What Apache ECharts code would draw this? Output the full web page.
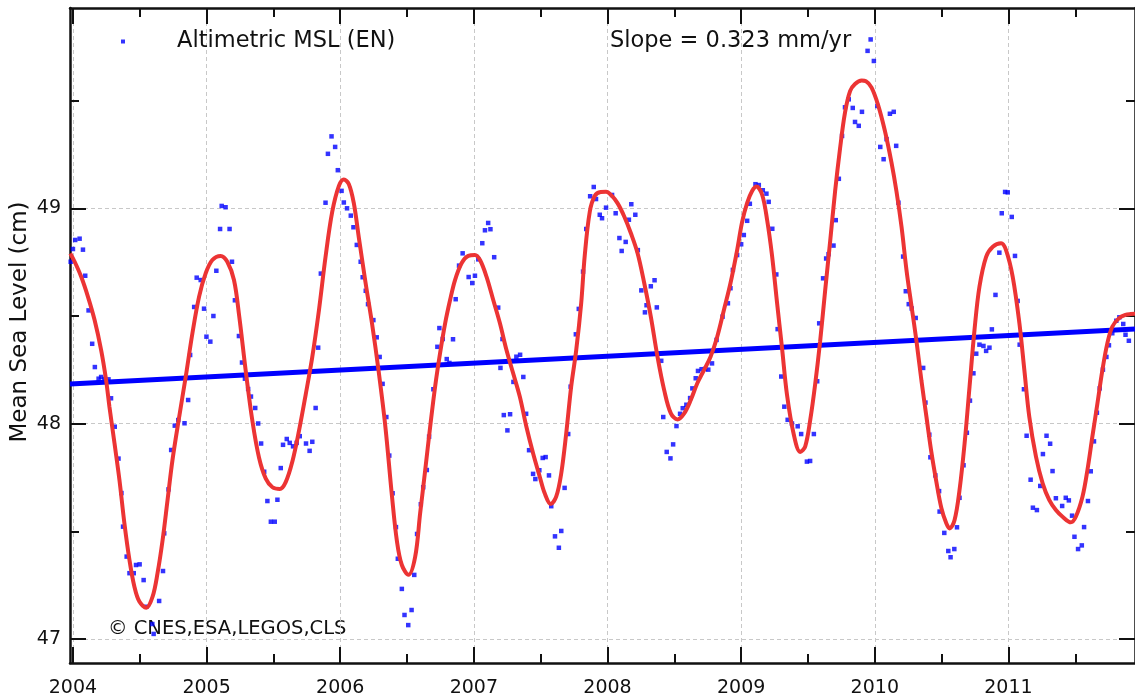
<!DOCTYPE html>
<html>
<head>
<meta charset="utf-8">
<script src="https://cdn.jsdelivr.net/npm/echarts@6/dist/echarts.min.js"></script>
<style>
html,body{margin:0;padding:0;background:#fff;}
#chart{width:1135px;height:700px;}
</style>
</head>
<body>
<div id="chart"></div>
<script>
// ---- data ----
const xMajorTicks = [2004, 2005, 2006, 2007, 2008, 2009, 2010, 2011];
const xMinorTicks = [2004.5, 2005.5, 2006.5, 2007.5, 2008.5, 2009.5, 2010.5, 2011.5];
const yMajorTicks = [47, 48, 49];
const yMinorTicks = [47.5, 48.5, 49.5];
const xRange = [2003.978, 2011.947];
const yRange = [46.889, 49.93];

const seriesName = 'Altimetric MSL (EN)';
const slopeText = 'Slope = 0.323 mm/yr';
const creditText = '\u00A9 CNES,ESA,LEGOS,CLS';
const yAxisTitle = 'Mean Sea Level (cm)';

// altimetric mean sea level samples [decimal year, cm]
const mslPoints = [
[2003.983,48.752],[2004.000,48.811],[2004.017,48.853],[2004.050,48.859],[2004.075,48.808],[2004.092,48.687],[2004.117,48.526],[2004.144,48.371],[2004.164,48.263],[2004.192,48.209],
[2004.211,48.217],[2004.236,48.208],[2004.266,48.206],[2004.285,48.118],[2004.313,47.986],[2004.341,47.838],[2004.363,47.678],[2004.375,47.522],[2004.402,47.383],[2004.423,47.306],
[2004.455,47.306],[2004.472,47.344],[2004.499,47.347],[2004.529,47.274],[2004.549,47.150],[2004.594,47.070],[2004.604,47.024],[2004.645,47.177],[2004.674,47.316],[2004.683,47.491],
[2004.715,47.695],[2004.735,47.878],[2004.762,47.991],[2004.788,48.017],[2004.835,48.002],[2004.862,48.110],[2004.877,48.319],[2004.907,48.542],[2004.926,48.678],[2004.956,48.667],
[2004.981,48.534],[2004.999,48.404],[2005.028,48.381],[2005.051,48.500],[2005.073,48.710],[2005.101,48.904],[2005.113,49.011],[2005.142,49.005],[2005.172,48.904],[2005.190,48.752],
[2005.212,48.573],[2005.242,48.407],[2005.265,48.284],[2005.287,48.209],[2005.311,48.161],[2005.332,48.126],[2005.364,48.073],[2005.386,48.001],[2005.408,47.908],[2005.431,47.777],
[2005.455,47.641],[2005.481,47.545],[2005.510,47.545],[2005.530,47.647],[2005.555,47.794],[2005.572,47.902],[2005.600,47.929],[2005.622,47.911],[2005.647,47.895],[2005.674,47.911],
[2005.697,47.942],[2005.744,47.908],[2005.771,47.874],[2005.791,47.916],[2005.816,48.073],[2005.835,48.353],[2005.855,48.697],[2005.890,49.026],[2005.908,49.253],[2005.935,49.334],
[2005.962,49.285],[2005.982,49.177],[2006.010,49.081],[2006.027,49.027],[2006.051,49.000],[2006.079,48.966],[2006.099,48.912],[2006.124,48.830],[2006.153,48.752],[2006.168,48.680],
[2006.191,48.617],[2006.208,48.555],[2006.248,48.481],[2006.273,48.401],[2006.295,48.310],[2006.317,48.185],[2006.345,48.031],[2006.367,47.852],[2006.392,47.677],[2006.417,47.520],
[2006.431,47.373],[2006.461,47.233],[2006.481,47.112],[2006.509,47.065],[2006.534,47.135],[2006.554,47.298],[2006.575,47.488],[2006.603,47.626],[2006.621,47.705],[2006.648,47.785],
[2006.665,47.940],[2006.697,48.160],[2006.727,48.357],[2006.742,48.444],[2006.767,48.393],[2006.797,48.300],[2006.817,48.282],[2006.844,48.392],[2006.864,48.578],[2006.889,48.734],
[2006.916,48.791],[2006.961,48.681],[2006.988,48.653],[2007.008,48.687],[2007.033,48.763],[2007.063,48.838],[2007.083,48.898],[2007.107,48.932],[2007.124,48.903],[2007.152,48.773],
[2007.182,48.539],[2007.199,48.259],[2007.214,48.393],[2007.224,48.040],[2007.251,47.969],[2007.271,48.044],[2007.296,48.194],[2007.318,48.311],[2007.346,48.320],[2007.370,48.217],
[2007.391,48.046],[2007.413,47.877],[2007.443,47.767],[2007.460,47.743],[2007.490,47.784],[2007.515,47.841],[2007.537,47.845],[2007.562,47.760],[2007.579,47.617],[2007.607,47.477],
[2007.636,47.424],[2007.654,47.502],[2007.679,47.702],[2007.706,47.952],[2007.724,48.172],[2007.763,48.415],[2007.785,48.533],[2007.817,48.706],[2007.841,48.904],[2007.870,49.056],
[2007.897,49.099],[2007.914,49.043],[2007.942,48.970],[2007.959,48.954],[2007.989,49.003],[2008.034,49.062],[2008.061,48.977],[2008.089,48.862],[2008.106,48.802],[2008.136,48.844],
[2008.160,48.947],[2008.178,49.019],[2008.208,48.970],[2008.227,48.806],[2008.253,48.619],[2008.280,48.517],[2008.292,48.550],[2008.324,48.638],[2008.352,48.666],[2008.369,48.540],
[2008.402,48.292],[2008.417,48.031],[2008.443,47.869],[2008.471,47.839],[2008.491,47.904],[2008.516,47.989],[2008.543,48.046],[2008.563,48.072],[2008.590,48.088],[2008.618,48.119],
[2008.635,48.164],[2008.660,48.211],[2008.677,48.245],[2008.704,48.253],[2008.730,48.254],[2008.754,48.251],[2008.782,48.280],[2008.816,48.389],[2008.861,48.497],[2008.901,48.559],
[2008.920,48.629],[2008.938,48.714],[2008.970,48.783],[2009.000,48.833],[2009.020,48.876],[2009.045,48.942],[2009.065,49.021],[2009.107,49.112],[2009.132,49.108],[2009.162,49.084],
[2009.189,49.068],[2009.206,49.030],[2009.233,48.905],[2009.263,48.693],[2009.273,48.439],[2009.300,48.219],[2009.323,48.079],[2009.348,48.018],[2009.380,48.001],[2009.423,47.988],
[2009.449,47.952],[2009.492,47.824],[2009.516,47.827],[2009.544,47.952],[2009.569,48.197],[2009.584,48.466],[2009.613,48.675],[2009.636,48.767],[2009.654,48.787],[2009.691,48.827],
[2009.708,48.945],[2009.731,49.137],[2009.755,49.336],[2009.777,49.469],[2009.805,49.506],[2009.835,49.466],[2009.852,49.401],[2009.880,49.383],[2009.904,49.448],[2009.946,49.731],
[2009.969,49.784],[2009.993,49.684],[2010.019,49.475],[2010.041,49.285],[2010.066,49.228],[2010.088,49.321],[2010.113,49.439],[2010.142,49.448],[2010.160,49.290],[2010.177,49.026],
[2010.212,48.776],[2010.232,48.615],[2010.254,48.555],[2010.276,48.535],[2010.306,48.491],[2010.362,48.259],[2010.379,48.098],[2010.408,47.949],[2010.416,47.844],[2010.453,47.760],
[2010.481,47.687],[2010.485,47.592],[2010.520,47.493],[2010.550,47.409],[2010.567,47.380],[2010.595,47.418],[2010.615,47.519],[2010.634,47.656],[2010.664,47.807],[2010.689,47.958],
[2010.712,48.107],[2010.738,48.234],[2010.759,48.325],[2010.783,48.367],[2010.813,48.361],[2010.833,48.338],[2010.858,48.353],[2010.876,48.438],[2010.903,48.598],[2010.932,48.794],
[2010.950,48.977],[2010.975,49.076],[2010.995,49.074],[2011.025,48.960],[2011.049,48.779],[2011.069,48.570],[2011.084,48.367],[2011.116,48.160],[2011.136,47.944],[2011.166,47.740],
[2011.183,47.610],[2011.213,47.599],[2011.238,47.711],[2011.258,47.859],[2011.285,47.944],[2011.312,47.907],[2011.330,47.780],[2011.355,47.654],[2011.402,47.618],[2011.429,47.656],
[2011.452,47.644],[2011.476,47.573],[2011.494,47.475],[2011.521,47.418],[2011.549,47.435],[2011.566,47.520],[2011.595,47.641],[2011.616,47.779],[2011.640,47.918],[2011.662,48.051],
[2011.683,48.164],[2011.707,48.251],[2011.733,48.310],[2011.752,48.364],[2011.777,48.420],[2011.807,48.478],[2011.830,48.494],[2011.859,48.463],[2011.876,48.413],[2011.901,48.385]
];

// smoothed (red) curve [decimal year, cm]
const smoothCurve = [
[2003.980,48.790],[2004.013,48.752],[2004.062,48.682],[2004.112,48.590],[2004.162,48.481],[2004.211,48.342],[2004.248,48.203],[2004.273,48.079],[2004.311,47.909],[2004.348,47.739],
[2004.385,47.538],[2004.423,47.367],[2004.460,47.243],[2004.497,47.174],[2004.549,47.146],[2004.596,47.197],[2004.633,47.306],[2004.671,47.460],[2004.708,47.646],[2004.745,47.832],
[2004.795,48.032],[2004.844,48.218],[2004.894,48.420],[2004.944,48.590],[2004.993,48.698],[2005.043,48.760],[2005.105,48.779],[2005.155,48.752],[2005.205,48.667],[2005.244,48.500],
[2005.294,48.240],[2005.344,48.008],[2005.393,47.841],[2005.443,47.745],[2005.493,47.705],[2005.548,47.697],[2005.592,47.729],[2005.642,47.825],[2005.692,47.969],[2005.741,48.133],
[2005.791,48.310],[2005.841,48.528],[2005.890,48.774],[2005.940,48.983],[2005.990,49.104],[2006.027,49.134],[2006.064,49.113],[2006.101,49.026],[2006.139,48.865],[2006.189,48.657],
[2006.238,48.465],[2006.288,48.241],[2006.338,47.985],[2006.387,47.665],[2006.424,47.456],[2006.461,47.344],[2006.511,47.299],[2006.561,47.383],[2006.598,47.584],[2006.636,47.785],
[2006.673,47.986],[2006.710,48.172],[2006.747,48.327],[2006.785,48.466],[2006.822,48.574],[2006.859,48.667],[2006.908,48.745],[2006.958,48.779],[2007.008,48.783],[2007.046,48.760],
[2007.095,48.682],[2007.145,48.574],[2007.195,48.466],[2007.244,48.342],[2007.294,48.234],[2007.344,48.125],[2007.393,47.986],[2007.443,47.863],[2007.493,47.754],[2007.530,47.677],
[2007.575,47.627],[2007.616,47.661],[2007.654,47.770],[2007.691,47.955],[2007.728,48.172],[2007.766,48.342],[2007.803,48.559],[2007.830,48.783],[2007.867,48.983],[2007.904,49.057],
[2007.949,49.076],[2007.989,49.077],[2008.026,49.062],[2008.076,49.023],[2008.126,48.961],[2008.175,48.884],[2008.225,48.791],[2008.275,48.652],[2008.324,48.497],[2008.374,48.311],
[2008.424,48.156],[2008.474,48.048],[2008.524,48.020],[2008.574,48.048],[2008.623,48.110],[2008.672,48.188],[2008.722,48.249],[2008.771,48.311],[2008.821,48.404],[2008.871,48.528],
[2008.920,48.652],[2008.970,48.806],[2009.007,48.936],[2009.045,49.025],[2009.082,49.080],[2009.114,49.101],[2009.157,49.063],[2009.194,48.947],[2009.231,48.781],[2009.268,48.565],
[2009.306,48.350],[2009.343,48.134],[2009.393,47.952],[2009.442,47.869],[2009.479,47.894],[2009.517,48.018],[2009.554,48.184],[2009.591,48.383],[2009.628,48.615],[2009.666,48.847],
[2009.703,49.079],[2009.740,49.278],[2009.777,49.444],[2009.815,49.544],[2009.852,49.577],[2009.902,49.593],[2009.934,49.590],[2009.976,49.560],[2010.026,49.477],[2010.075,49.361],
[2010.125,49.212],[2010.162,49.079],[2010.200,48.914],[2010.237,48.714],[2010.274,48.549],[2010.312,48.383],[2010.349,48.200],[2010.386,48.034],[2010.423,47.869],[2010.461,47.729],
[2010.498,47.609],[2010.535,47.538],[2010.560,47.514],[2010.597,47.553],[2010.634,47.692],[2010.672,47.909],[2010.709,48.172],[2010.746,48.435],[2010.783,48.636],[2010.833,48.775],
[2010.883,48.822],[2010.945,48.838],[2010.982,48.806],[2011.032,48.682],[2011.082,48.466],[2011.119,48.249],[2011.156,48.032],[2011.206,47.847],[2011.256,47.723],[2011.305,47.646],
[2011.355,47.599],[2011.405,47.568],[2011.467,47.542],[2011.504,47.568],[2011.554,47.661],[2011.591,47.785],[2011.628,47.940],[2011.666,48.095],[2011.703,48.249],[2011.740,48.373],
[2011.777,48.450],[2011.826,48.489],[2011.876,48.505],[2011.914,48.509],[2011.947,48.510]
];

// linear trend end points [decimal year, cm]
const trendLine = [[2003.978, 48.184], [2011.947, 48.440]];

// ---- chart ----
const FONT = 'DejaVu Sans';
const INK = '#111111';
const chart = echarts.init(document.getElementById('chart'), null, {renderer: 'canvas'});

function majorAxis(pos, showLabel, showLine, ticks, range, showSplit) {
  return {
    type: 'value', position: pos, min: range[0], max: range[1],
    axisLine: {show: showLine, onZero: false, lineStyle: {color: INK, width: 2.5}},
    axisTick: {show: true, inside: true, length: 16, customValues: ticks, lineStyle: {color: INK, width: 2}},
    axisLabel: {show: showLabel, customValues: ticks, color: INK, fontFamily: FONT, fontSize: 19,
                margin: (pos === 'bottom') ? 16 : 9, formatter: v => String(Math.round(v))},
    splitLine: {show: showSplit, lineStyle: {color: '#c8c8c8', width: 1, type: [4, 3]}},
    minorTick: {show: false}
  };
}
function minorAxis(pos, ticks, range) {
  return {
    type: 'value', position: pos, min: range[0], max: range[1],
    axisLine: {show: false},
    axisTick: {show: true, inside: true, length: 9, customValues: ticks, lineStyle: {color: INK, width: 2}},
    axisLabel: {show: false},
    splitLine: {show: false}
  };
}

const option = {
  animation: false,
  backgroundColor: '#ffffff',
  grid: {left: 70, top: 8, width: 1069.5, height: 655, containLabel: false},
  xAxis: [
    majorAxis('bottom', true, true, xMajorTicks, xRange, true),
    minorAxis('bottom', xMinorTicks, xRange),
    majorAxis('top', false, true, xMajorTicks, xRange, false),
    minorAxis('top', xMinorTicks, xRange)
  ],
  yAxis: [
    majorAxis('left', true, true, yMajorTicks, yRange, true),
    minorAxis('left', yMinorTicks, yRange),
    majorAxis('right', false, true, yMajorTicks, yRange, false),
    minorAxis('right', yMinorTicks, yRange)
  ],
  legend: {
    data: [seriesName], left: 121, top: 30, padding: 0,
    icon: 'rect', itemWidth: 4, itemHeight: 4,
    textStyle: {color: INK, fontFamily: FONT, fontSize: 22.5, padding: [0, 0, 0, 47]}
  },
  graphic: [
    {type: 'text', x: 610, y: 41, silent: true,
     style: {text: slopeText, fill: INK, font: '22.5px "DejaVu Sans"', verticalAlign: 'middle', align: 'left'}},
    {type: 'text', x: 108, y: 629, silent: true,
     style: {text: creditText, fill: INK, font: '19.5px "DejaVu Sans"', verticalAlign: 'middle', align: 'left'}},
    {type: 'text', x: 20, y: 322, rotation: Math.PI / 2, silent: true,
     style: {text: yAxisTitle, fill: INK, font: '23px "DejaVu Sans"', verticalAlign: 'middle', align: 'center'}}
  ],
  series: [
    {
      name: seriesName, type: 'scatter', xAxisIndex: 0, yAxisIndex: 0,
      data: mslPoints, symbol: 'rect', symbolSize: 4.5,
      itemStyle: {color: '#0000ff'}, z: 2
    },
    {
      name: 'trend', type: 'line', xAxisIndex: 0, yAxisIndex: 0,
      data: trendLine, showSymbol: false, symbol: 'none',
      lineStyle: {color: '#0000ff', width: 5}, z: 3
    },
    {
      name: 'smooth', type: 'line', xAxisIndex: 0, yAxisIndex: 0,
      data: smoothCurve, showSymbol: false, symbol: 'none', smooth: 0.35,
      lineStyle: {color: '#ec3434', width: 4}, z: 4
    }
  ]
};
chart.setOption(option);
</script>
</body>
</html>
